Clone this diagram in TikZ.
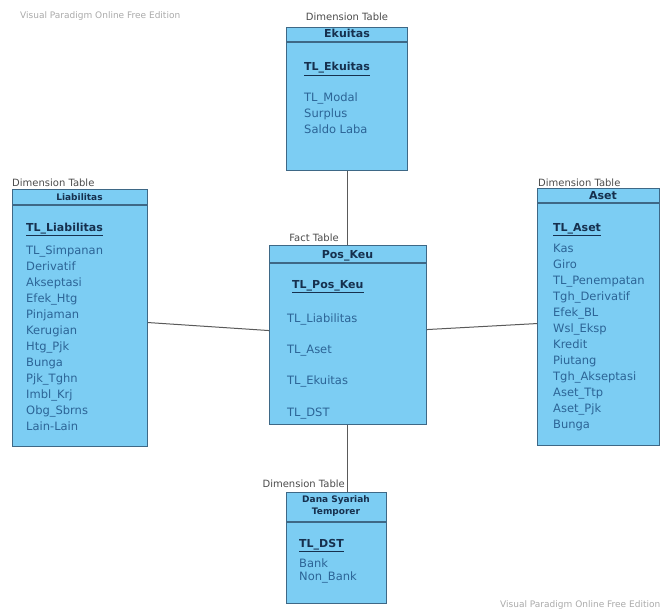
\documentclass[tikz,border=0pt]{standalone}
\usepackage{fontspec}
\setmainfont{DejaVu Sans}
\begin{document}
\definecolor{tfill}{RGB}{124,205,243}
\definecolor{tedge}{RGB}{62,104,134}
\definecolor{thead}{RGB}{22,48,78}
\definecolor{titem}{RGB}{44,100,150}
\definecolor{wmark}{RGB}{170,170,170}
\definecolor{conn}{RGB}{90,90,90}
\begin{tikzpicture}[x=1pt,y=-1pt,
  tablebox/.style={draw=tedge,line width=1.1pt,fill=tfill,anchor=north west,inner sep=0pt},
  sepline/.style={draw=tedge,line width=1.1pt},
  kindlabel/.style={font=\fontsize{10}{12}\selectfont,text=black!70,inner sep=0pt,anchor=base},
  headtext/.style={font=\fontsize{11}{13}\selectfont\bfseries,text=thead,inner sep=0pt,anchor=base},
  smallhead/.style={font=\fontsize{9}{11.5}\selectfont\bfseries,text=thead,inner sep=0pt,align=center},
  keytext/.style={font=\fontsize{11}{13}\selectfont\bfseries,text=thead,inner sep=0pt,anchor=base west},
  itemtext/.style={font=\fontsize{11.5}{16}\selectfont,text=titem,inner sep=0pt,anchor=north west,align=left},
  link/.style={draw=conn,line width=1pt},
  watermark/.style={font=\fontsize{9}{11}\selectfont,text=wmark,inner sep=0pt,anchor=base west}]
\useasboundingbox (0,0) rectangle (660,612);
\fill[white] (0,0) rectangle (660,612);

% watermarks
\node[watermark] (wm1) at (20,19) {Visual Paradigm Online Free Edition};
\node[watermark] (wm2) at (500,607) {Visual Paradigm Online Free Edition};

% Ekuitas
\node[tablebox,minimum width=121pt,minimum height=143pt] (ekuitas) at (286,27) {};
\draw[sepline] (286,42) -- (407,42);
\node[kindlabel] (ekuitasK) at (347,21) {Dimension Table};
\node[headtext] (ekuitasH) at (347,38) {Ekuitas};
\node[keytext] (ekuitasPK) at (304,71) {\underline{TL\_Ekuitas}};
\node[itemtext] (ekuitasI) at (304,93) {TL\_Modal\\Surplus\\Saldo Laba};

% Liabilitas
\node[tablebox,minimum width=135pt,minimum height=257pt] (liab) at (12,189) {};
\draw[sepline] (12,205) -- (147,205);
\node[kindlabel,anchor=base west] (liabK) at (12,186) {Dimension Table};
\node[smallhead] (liabH) at (79.5,197) {Liabilitas};
\node[keytext] (liabPK) at (26,231) {\underline{TL\_Liabilitas}};
\node[itemtext] (liabI) at (26,246) {TL\_Simpanan\\Derivatif\\Akseptasi\\Efek\_Htg\\Pinjaman\\Kerugian\\Htg\_Pjk\\Bunga\\Pjk\_Tghn\\Imbl\_Krj\\Obg\_Sbrns\\Lain-Lain};

% Aset
\node[tablebox,minimum width=122pt,minimum height=257pt] (aset) at (537,188) {};
\draw[sepline] (537,203) -- (659,203);
\node[kindlabel,anchor=base west] (asetK) at (538,186) {Dimension Table};
\node[headtext] (asetH) at (603,200) {Aset};
\node[keytext] (asetPK) at (553,231) {\underline{TL\_Aset}};
\node[itemtext] (asetI) at (553,244) {Kas\\Giro\\TL\_Penempatan\\Tgh\_Derivatif\\Efek\_BL\\Wsl\_Eksp\\Kredit\\Piutang\\Tgh\_Akseptasi\\Aset\_Ttp\\Aset\_Pjk\\Bunga};

% Pos_Keu (fact table)
\node[tablebox,minimum width=157pt,minimum height=179pt] (poskeu) at (269,245) {};
\draw[sepline] (269,263) -- (426,263);
\node[kindlabel] (poskeuK) at (314,241) {Fact Table};
\node[headtext] (poskeuH) at (347.5,258) {Pos\_Keu};
\node[keytext] (poskeuPK) at (292,288) {\underline{TL\_Pos\_Keu}};
\node[itemtext,anchor=base west] (poskeuI1) at (287,322) {TL\_Liabilitas};
\node[itemtext,anchor=base west] (poskeuI2) at (287,353) {TL\_Aset};
\node[itemtext,anchor=base west] (poskeuI3) at (287,384) {TL\_Ekuitas};
\node[itemtext,anchor=base west] (poskeuI4) at (287,416) {TL\_DST};

% Dana Syariah Temporer
\node[tablebox,minimum width=100pt,minimum height=111pt] (dst) at (286,492) {};
\draw[sepline] (286,522) -- (386,522);
\node[kindlabel,anchor=base east] (dstK) at (345,487) {Dimension Table};
\node[smallhead] (dstH) at (336,506) {Dana Syariah\\Temporer};
\node[keytext] (dstPK) at (299,547) {\underline{TL\_DST}};
\node[itemtext,font=\fontsize{11.5}{13}\selectfont] (dstI) at (299,559) {Bank\\Non\_Bank};

% connectors between fact and dimension tables
\draw[link] (ekuitas.south) -- (ekuitas.south |- poskeu.north);
\draw[link] ([yshift=-4.5pt]liab.east) -- ([yshift=4.5pt]poskeu.west);
\draw[link] ([yshift=5.5pt]poskeu.east) -- ([yshift=-6.5pt]aset.west);
\draw[link] (dst.north -| ekuitas.south) -- (ekuitas.south |- poskeu.south);
\end{tikzpicture}
\end{document}
